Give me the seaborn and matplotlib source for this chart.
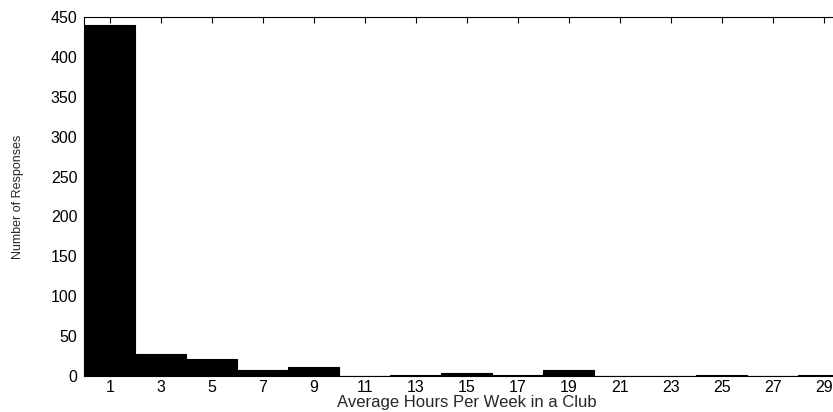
import numpy as np
import pandas as pd
import matplotlib
matplotlib.use("Agg")
import matplotlib.pyplot as plt
import seaborn as sns

# bin centres (hours) and number of responses
hours = [1, 3, 5, 7, 9, 11, 13, 15, 17, 19, 21, 23, 25, 27, 29]
responses = [440, 28, 21, 8, 11, 0, 1, 4, 1, 7, 0, 0, 1, 0, 1]
bin_edges = list(range(0, 32, 2))
x_ticks = list(range(1, 30, 2))
y_ticks = list(range(0, 451, 50))

df = pd.DataFrame({"hours": hours, "responses": responses})

sns.set_style("white")
plt.rcParams["font.family"] = ["Liberation Sans", "DejaVu Sans"]

fig = plt.figure(figsize=(8.33, 4.12), dpi=100)
ax = fig.add_axes([0.1014, 0.0874, 0.918, 0.8713])

sns.histplot(data=df, x="hours", weights="responses", bins=bin_edges,
             color="black", edgecolor="black", alpha=1, linewidth=0.8, ax=ax)

ax.set_xlim(0, 30)
ax.set_ylim(0, 450)
ax.set_xticks(x_ticks)
ax.set_yticks(y_ticks)
ax.tick_params(direction="in", top=True, right=True, length=4, width=0.8,
               labelsize=11.5, colors="black")
ax.tick_params(axis="x", pad=3)
ax.tick_params(axis="y", pad=5)
for s in ax.spines.values():
    s.set_color("black")
    s.set_linewidth(0.8)

ax.set_xlabel("Average Hours Per Week in a Club", fontsize=12, labelpad=0)
ax.set_ylabel("Number of Responses", fontsize=9, labelpad=19)

fig.savefig("out.png", dpi=100)
